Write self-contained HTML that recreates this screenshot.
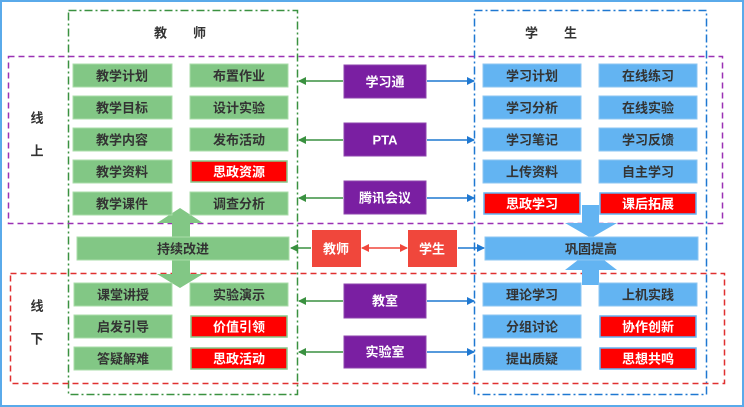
<!DOCTYPE html>
<html><head><meta charset="utf-8"><style>
html,body{margin:0;padding:0;background:#fff;}
svg{display:block;}
text{font-family:"Liberation Sans","Noto Sans CJK SC",sans-serif;font-weight:bold;font-size:13px;text-anchor:middle;dominant-baseline:central;}
</style></head><body>
<svg width="744" height="407" viewBox="0 0 744 407" xmlns="http://www.w3.org/2000/svg">
<defs>
<marker id="ag" markerWidth="8" markerHeight="8" refX="7" refY="4" orient="auto" markerUnits="userSpaceOnUse"><path d="M0,0 L8,4 L0,8 z" fill="#3a9140"/></marker>
<marker id="ab" markerWidth="8" markerHeight="8" refX="7" refY="4" orient="auto" markerUnits="userSpaceOnUse"><path d="M0,0 L8,4 L0,8 z" fill="#1f78d1"/></marker>
<marker id="ar" markerWidth="8" markerHeight="8" refX="7" refY="4" orient="auto-start-reverse" markerUnits="userSpaceOnUse"><path d="M0,0 L8,4 L0,8 z" fill="#f0473c"/></marker>
</defs>
<rect x="1" y="1" width="742" height="405" fill="#fff" stroke="#5aaaea" stroke-width="2"/>
<!-- group boxes -->
<rect x="68.5" y="10.5" width="229" height="384" fill="none" stroke="#3a9140" stroke-width="1.5" stroke-dasharray="8,3,2,3"/>
<rect x="474.5" y="10.5" width="232" height="384" fill="none" stroke="#1f78d1" stroke-width="1.5" stroke-dasharray="8,3,2,3"/>
<rect x="8.5" y="56.5" width="714" height="167" fill="none" stroke="#9b30b5" stroke-width="1.5" stroke-dasharray="6,4"/>
<rect x="10.5" y="273.5" width="714" height="110" fill="none" stroke="#e03030" stroke-width="1.5" stroke-dasharray="6,4"/>
<text x="180" y="33" fill="#333">教　　师</text>
<text x="551" y="33" fill="#333">学　　生</text>
<text x="37" y="118" fill="#333">线</text><text x="37" y="151" fill="#333">上</text>
<text x="37" y="306" fill="#333">线</text><text x="37" y="339" fill="#333">下</text>
<!-- big arrows -->
<path d="M180,208 L203,223 L190,223 L190,274 L203,274 L180,288 L157,274 L172,274 L172,223 L157,223 z" fill="#82c785"/>
<path d="M582,205 L599,205 L599,223 L617,223 L591,238 L565,223 L582,223 z" fill="#63b4f2"/>
<path d="M591,250 L617,270 L599,270 L599,285 L582,285 L582,270 L565,270 z" fill="#63b4f2"/>
<g stroke="#a9dca9" stroke-width="1" fill="#82c785">
<rect x="73" y="64" width="99" height="23"/><rect x="190" y="64" width="98" height="23"/>
<rect x="73" y="96" width="99" height="23"/><rect x="190" y="96" width="98" height="23"/>
<rect x="73" y="128" width="99" height="23"/><rect x="190" y="128" width="98" height="23"/>
<rect x="73" y="160" width="99" height="23"/>
<rect x="73" y="192" width="99" height="23"/><rect x="190" y="192" width="98" height="23"/>
<rect x="77" y="237" width="212" height="23"/>
<rect x="74" y="283" width="98" height="23"/><rect x="190" y="283" width="98" height="23"/>
<rect x="74" y="315" width="98" height="23"/>
<rect x="74" y="347" width="98" height="23"/>
</g>
<g stroke="#86c98a" stroke-width="1.5" fill="#ff0000">
<rect x="191" y="161" width="96" height="21"/>
<rect x="191" y="316" width="96" height="21"/><rect x="191" y="348" width="96" height="21"/>
</g>
<g stroke="#8cc6f2" stroke-width="1" fill="#63b4f2">
<rect x="483" y="64" width="98" height="23"/><rect x="599" y="64" width="98" height="23"/>
<rect x="483" y="96" width="98" height="23"/><rect x="599" y="96" width="98" height="23"/>
<rect x="483" y="128" width="98" height="23"/><rect x="599" y="128" width="98" height="23"/>
<rect x="483" y="160" width="98" height="23"/><rect x="599" y="160" width="98" height="23"/>
<rect x="485" y="237" width="213" height="23"/>
<rect x="483" y="283" width="98" height="23"/><rect x="599" y="283" width="98" height="23"/>
<rect x="483" y="315" width="98" height="23"/>
<rect x="483" y="347" width="98" height="23"/>
</g>
<g stroke="#63b4f2" stroke-width="1.5" fill="#ff0000">
<rect x="484" y="193" width="96" height="21"/><rect x="600" y="193" width="96" height="21"/>
<rect x="600" y="316" width="96" height="21"/><rect x="600" y="348" width="96" height="21"/>
</g>
<g fill="#7a1fa2" stroke="#8e44ad">
<rect x="344" y="65" width="82" height="33"/><rect x="344" y="123" width="82" height="33"/><rect x="344" y="181" width="82" height="33"/>
<rect x="344" y="284" width="82" height="34"/><rect x="344" y="336" width="82" height="32"/>
</g>
<rect x="312" y="230" width="49" height="37" fill="#f0473c"/>
<rect x="408" y="230" width="49" height="37" fill="#f0473c"/>
<!-- connectors -->
<g stroke-width="1.5" fill="none">
<line x1="343" y1="81" x2="299" y2="81" stroke="#3a9140" marker-end="url(#ag)"/>
<line x1="343" y1="140" x2="299" y2="140" stroke="#3a9140" marker-end="url(#ag)"/>
<line x1="343" y1="198" x2="299" y2="198" stroke="#3a9140" marker-end="url(#ag)"/>
<line x1="343" y1="301" x2="299" y2="301" stroke="#3a9140" marker-end="url(#ag)"/>
<line x1="343" y1="352" x2="299" y2="352" stroke="#3a9140" marker-end="url(#ag)"/>
<line x1="311" y1="248" x2="291" y2="248" stroke="#3a9140" marker-end="url(#ag)"/>
<line x1="427" y1="81" x2="474" y2="81" stroke="#1f78d1" marker-end="url(#ab)"/>
<line x1="427" y1="140" x2="474" y2="140" stroke="#1f78d1" marker-end="url(#ab)"/>
<line x1="427" y1="198" x2="474" y2="198" stroke="#1f78d1" marker-end="url(#ab)"/>
<line x1="427" y1="301" x2="474" y2="301" stroke="#1f78d1" marker-end="url(#ab)"/>
<line x1="427" y1="352" x2="474" y2="352" stroke="#1f78d1" marker-end="url(#ab)"/>
<line x1="458" y1="248" x2="484" y2="248" stroke="#1f78d1" marker-end="url(#ab)"/>
<line x1="362" y1="248" x2="407" y2="248" stroke="#f0473c" marker-start="url(#ar)" marker-end="url(#ar)"/>
</g>
<g fill="#333">
<text x="122" y="76">教学计划</text><text x="239" y="76">布置作业</text>
<text x="122" y="108">教学目标</text><text x="239" y="108">设计实验</text>
<text x="122" y="140">教学内容</text><text x="239" y="140">发布活动</text>
<text x="122" y="172">教学资料</text>
<text x="122" y="204">教学课件</text><text x="239" y="204">调查分析</text>
<text x="183" y="249">持续改进</text>
<text x="123" y="295">课堂讲授</text><text x="239" y="295">实验演示</text>
<text x="123" y="327">启发引导</text>
<text x="123" y="359">答疑解难</text>
<text x="532" y="76">学习计划</text><text x="648" y="76">在线练习</text>
<text x="532" y="108">学习分析</text><text x="648" y="108">在线实验</text>
<text x="532" y="140">学习笔记</text><text x="648" y="140">学习反馈</text>
<text x="532" y="172">上传资料</text><text x="648" y="172">自主学习</text>
<text x="591" y="249">巩固提高</text>
<text x="532" y="295">理论学习</text><text x="648" y="295">上机实践</text>
<text x="532" y="327">分组讨论</text>
<text x="532" y="359">提出质疑</text>
</g>
<g fill="#fff">
<text x="239" y="172">思政资源</text><text x="239" y="327">价值引领</text><text x="239" y="359">思政活动</text>
<text x="532" y="204">思政学习</text><text x="648" y="204">课后拓展</text>
<text x="648" y="327">协作创新</text><text x="648" y="359">思想共鸣</text>
<text x="385" y="82">学习通</text><text x="385" y="140">PTA</text><text x="385" y="198">腾讯会议</text>
<text x="385" y="301">教室</text><text x="385" y="352">实验室</text>
<text x="336" y="249">教师</text><text x="432" y="249">学生</text>
</g>
</svg>
</body></html>
